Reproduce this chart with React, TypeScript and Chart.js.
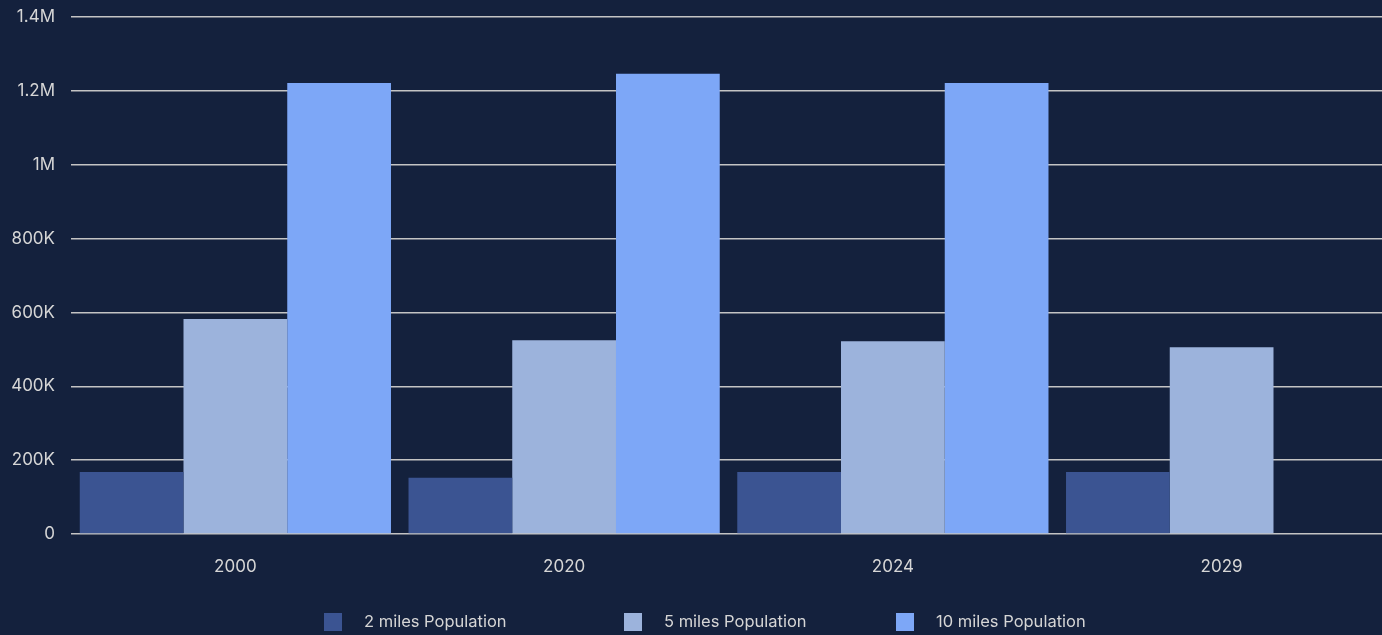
import React, { useEffect, useRef } from "react";
import { Chart, registerables } from "chart.js";

Chart.register(...registerables);

const categories = ["2000", "2020", "2024", "2029"];
const seriesLabels = ["2 miles Population", "5 miles Population", "10 miles Population"];
const twoMiles = [168000, 152000, 168000, 168000];
const fiveMiles = [582000, 525000, 522000, 506000];
const tenMiles = [1221000, 1246000, 1221000, null];
const seriesColors = ["#3B5492", "#9CB3DC", "#7DA7F7"];
const yMax = 1400000;
const yStep = 200000;

const BG = "#14213D";
const TEXT = "#D6D6D6";
const GRID = "#C4C4C4";
const FONT = "Inter, 'Noto Sans', sans-serif";

function formatTick(v: number): string {
  if (v >= 1000000) return `${v / 1000000}M`;
  if (v >= 1000) return `${v / 1000}K`;
  return `${v}`;
}

const legendBoxX = [324, 624, 896];

const legendPlugin = {
  id: "customLegend",
  afterDraw(chart: any) {
    const ctx = chart.ctx;
    ctx.save();
    ctx.font = `16.5px ${FONT}`;
    ctx.textBaseline = "middle";
    ctx.textAlign = "left";
    chart.data.datasets.forEach((ds: any, i: number) => {
      const x = legendBoxX[i];
      const y = 622;
      ctx.fillStyle = ds.backgroundColor;
      ctx.fillRect(x, y - 9, 18, 18);
      ctx.fillStyle = TEXT;
      ctx.fillText(ds.label, x + 40, y);
    });
    ctx.restore();
  },
};

export default function App() {
  const canvasRef = useRef<HTMLCanvasElement | null>(null);

  useEffect(() => {
    if (!canvasRef.current) return;
    const seriesValues = [twoMiles, fiveMiles, tenMiles];
    const chart = new Chart(canvasRef.current, {
      type: "bar",
      data: {
        labels: categories,
        datasets: seriesLabels.map((label, i) => ({
          label,
          data: seriesValues[i] as any,
          backgroundColor: seriesColors[i],
          borderWidth: 0,
          barPercentage: 1,
          categoryPercentage: 0.9467,
        })),
      },
      options: {
        animation: false,
        responsive: true,
        maintainAspectRatio: false,
        layout: { padding: { top: 17, right: 0, left: 0, bottom: 0 } },
        plugins: {
          legend: { display: false },
          tooltip: { enabled: false },
        },
        scales: {
          x: {
            grid: { display: false, drawTicks: false },
            border: { display: false },
            ticks: {
              color: TEXT,
              font: { family: FONT, size: 17 },
              padding: 23,
            },
            afterFit: (scale: any) => {
              scale.height = 101;
            },
          },
          y: {
            min: 0,
            max: yMax,
            grid: { color: GRID, lineWidth: 1.5, drawTicks: false },
            border: { display: false },
            ticks: {
              stepSize: yStep,
              color: TEXT,
              font: { family: FONT, size: 17 },
              padding: 16,
              callback: (v: any) => formatTick(Number(v)),
            },
            afterFit: (scale: any) => {
              scale.width = 71;
              scale.paddingTop = 0;
              scale.paddingBottom = 0;
            },
          },
        },
      },
      plugins: [legendPlugin],
    });
    return () => chart.destroy();
  }, []);

  return (
    <div
      style={{
        position: "absolute",
        left: 0,
        top: 0,
        width: 1382,
        height: 635,
        background: BG,
        overflow: "hidden",
      }}
    >
      <div style={{ position: "relative", width: 1386, height: 635 }}>
        <canvas ref={canvasRef} />
      </div>
    </div>
  );
}
